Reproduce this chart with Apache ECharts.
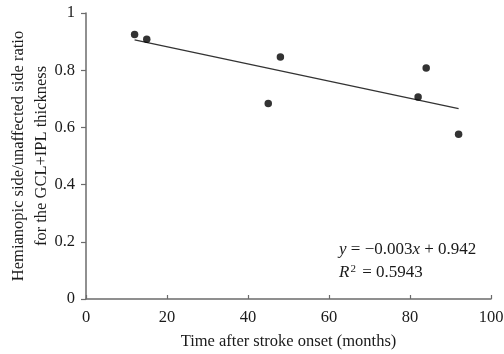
<!DOCTYPE html>
<html>
<head>
<meta charset="utf-8">
<script src="https://cdn.jsdelivr.net/npm/echarts@6/dist/echarts.min.js"></script>
<style>
  html, body { margin: 0; padding: 0; background: #fff; }
  #chart { width: 504px; height: 354px; }
</style>
</head>
<body>
<div id="chart"></div>
<script>
// Months after stroke onset for each patient
var monthsAfterOnset = [12, 15, 45, 48, 82, 84, 92];
// Hemianopic / unaffected side GCL+IPL thickness ratio
var thicknessRatio = [0.925, 0.908, 0.684, 0.846, 0.706, 0.808, 0.576];
// Linear fit reported in the equation label
var fitSlope = -0.003;
var fitIntercept = 0.942;
var fitR2 = 0.5943;
var fitRange = [12, 92];
// Axis ticks
var xTicks = [0, 20, 40, 60, 80, 100];
var yTicks = [0, 0.2, 0.4, 0.6, 0.8, 1];

var serif = '"Liberation Serif", "DejaVu Serif", serif';
var axisGray = '#6b6b6b';
var textColor = '#1a1a1a';
var labelSize = 16.5;
var eqSize = 17;

var points = monthsAfterOnset.map(function (m, i) { return [m, thicknessRatio[i]]; });
var fitLine = fitRange.map(function (m) { return [m, fitIntercept + fitSlope * m]; });

var chart = echarts.init(document.getElementById('chart'), null, { renderer: 'canvas' });
chart.setOption({
  animation: false,
  backgroundColor: '#fff',
  grid: { left: 86, right: 13, top: 13, bottom: 55, containLabel: false, outerBoundsMode: 'none' },
  xAxis: {
    type: 'value',
    min: xTicks[0], max: xTicks[xTicks.length - 1], interval: 20,
    name: 'Time after stroke onset (months)',
    nameLocation: 'middle', nameGap: 34, nameMoveOverlap: false,
    nameTextStyle: { fontFamily: serif, fontSize: labelSize, color: textColor },
    axisLine: { show: true, lineStyle: { color: axisGray, width: 1.5 } },
    axisTick: { show: true, inside: true, length: 4, lineStyle: { color: axisGray, width: 1.2 } },
    axisLabel: { fontFamily: serif, fontSize: labelSize, color: textColor, margin: 10 },
    splitLine: { show: false }
  },
  yAxis: {
    type: 'value',
    min: yTicks[0], max: yTicks[yTicks.length - 1], interval: 0.2,
    name: 'Hemianopic side/unaffected side ratio\nfor the GCL+IPL thickness',
    nameLocation: 'middle', nameGap: 32.5, nameRotate: 90, nameMoveOverlap: false,
    nameTextStyle: { fontFamily: serif, fontSize: labelSize, color: textColor, lineHeight: 23 },
    axisLine: { show: true, lineStyle: { color: axisGray, width: 1.5 } },
    axisTick: { show: true, inside: false, length: 5, lineStyle: { color: axisGray, width: 1.2 } },
    axisLabel: {
      fontFamily: serif, fontSize: labelSize, color: textColor, margin: 11,
      formatter: function (v) { return String(Math.round(v * 10) / 10); }
    },
    splitLine: { show: false }
  },
  series: [
    {
      type: 'line',
      data: fitLine,
      showSymbol: false,
      symbol: 'none',
      lineStyle: { color: '#333', width: 1.3 },
      silent: true,
      z: 2
    },
    {
      type: 'scatter',
      data: points,
      symbol: 'circle',
      symbolSize: 7.5,
      itemStyle: { color: '#000' },
      z: 3
    }
  ],
  graphic: [
    {
      type: 'text',
      left: 339, top: 241,
      style: {
        text: '{i|y} = \u22120.003{i|x} + 0.942',
        fontFamily: serif, fontSize: eqSize, fill: textColor,
        rich: { i: { fontFamily: serif, fontSize: eqSize, fontStyle: 'italic', fill: textColor } }
      }
    },
    {
      type: 'text',
      left: 339, top: 264,
      style: {
        text: '{i|R}{sup|2} = ' + fitR2.toFixed(4),
        fontFamily: serif, fontSize: eqSize, fill: textColor,
        rich: {
          i: { fontFamily: serif, fontSize: eqSize, fontStyle: 'italic', fill: textColor },
          sup: { fontFamily: serif, fontSize: 11, fill: textColor, verticalAlign: 'top', padding: [0, 2, 7, 1] }
        }
      }
    }
  ]
});
</script>
</body>
</html>
